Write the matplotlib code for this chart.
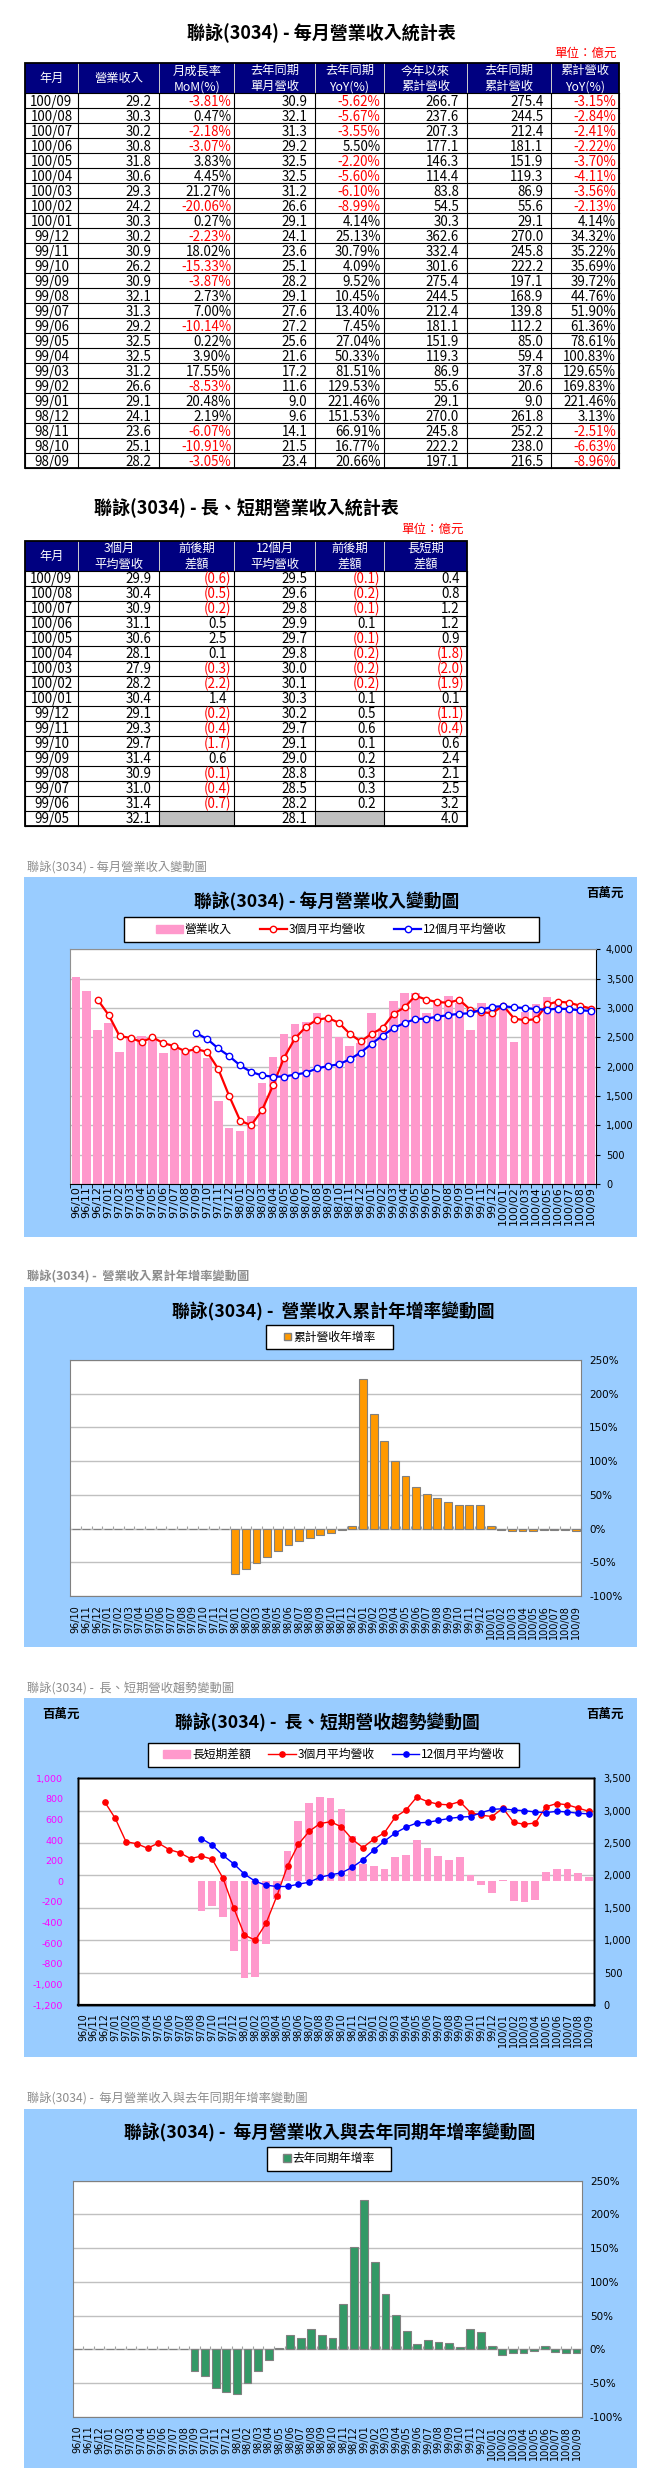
import numpy as np
import matplotlib
matplotlib.use('Agg')
import matplotlib.pyplot as plt
from matplotlib.patches import Rectangle, Patch
from matplotlib.lines import Line2D

plt.rcParams['font.family'] = ['Noto Sans CJK TC', 'DejaVu Sans']
plt.rcParams['axes.unicode_minus'] = False

# ---------------- table 1 data (億元) ----------------
t1_month = ['100/09', '100/08', '100/07', '100/06', '100/05', '100/04', '100/03', '100/02', '100/01',
            '99/12', '99/11', '99/10', '99/09', '99/08', '99/07', '99/06', '99/05', '99/04', '99/03',
            '99/02', '99/01', '98/12', '98/11', '98/10', '98/09']
t1_rev = [29.2, 30.3, 30.2, 30.8, 31.8, 30.6, 29.3, 24.2, 30.3, 30.2, 30.9, 26.2, 30.9, 32.1, 31.3,
          29.2, 32.5, 32.5, 31.2, 26.6, 29.1, 24.1, 23.6, 25.1, 28.2]
t1_mom = [-3.81, 0.47, -2.18, -3.07, 3.83, 4.45, 21.27, -20.06, 0.27, -2.23, 18.02, -15.33, -3.87,
          2.73, 7.00, -10.14, 0.22, 3.90, 17.55, -8.53, 20.48, 2.19, -6.07, -10.91, -3.05]
t1_ly_rev = [30.9, 32.1, 31.3, 29.2, 32.5, 32.5, 31.2, 26.6, 29.1, 24.1, 23.6, 25.1, 28.2, 29.1, 27.6,
             27.2, 25.6, 21.6, 17.2, 11.6, 9.0, 9.6, 14.1, 21.5, 23.4]
t1_yoy = [-5.62, -5.67, -3.55, 5.50, -2.20, -5.60, -6.10, -8.99, 4.14, 25.13, 30.79, 4.09, 9.52,
          10.45, 13.40, 7.45, 27.04, 50.33, 81.51, 129.53, 221.46, 151.53, 66.91, 16.77, 20.66]
t1_ytd = [266.7, 237.6, 207.3, 177.1, 146.3, 114.4, 83.8, 54.5, 30.3, 362.6, 332.4, 301.6, 275.4,
          244.5, 212.4, 181.1, 151.9, 119.3, 86.9, 55.6, 29.1, 270.0, 245.8, 222.2, 197.1]
t1_ly_ytd = [275.4, 244.5, 212.4, 181.1, 151.9, 119.3, 86.9, 55.6, 29.1, 270.0, 245.8, 222.2, 197.1,
             168.9, 139.8, 112.2, 85.0, 59.4, 37.8, 20.6, 9.0, 261.8, 252.2, 238.0, 216.5]
t1_ytd_yoy = [-3.15, -2.84, -2.41, -2.22, -3.70, -4.11, -3.56, -2.13, 4.14, 34.32, 35.22, 35.69, 39.72,
              44.76, 51.90, 61.36, 78.61, 100.83, 129.65, 169.83, 221.46, 3.13, -2.51, -6.63, -8.96]
t1_headers = ['年月', '營業收入', '月成長率\nMoM(%)', '去年同期\n單月營收', '去年同期\nYoY(%)',
              '今年以來\n累計營收', '去年同期\n累計營收', '累計營收\nYoY(%)']

# ---------------- table 2 data (億元) ----------------
t2_month = ['100/09', '100/08', '100/07', '100/06', '100/05', '100/04', '100/03', '100/02', '100/01',
            '99/12', '99/11', '99/10', '99/09', '99/08', '99/07', '99/06', '99/05']
t2_ma3 = [29.9, 30.4, 30.9, 31.1, 30.6, 28.1, 27.9, 28.2, 30.4, 29.1, 29.3, 29.7, 31.4, 30.9, 31.0, 31.4, 32.1]
t2_ma3_chg = [-0.6, -0.5, -0.2, 0.5, 2.5, 0.1, -0.3, -2.2, 1.4, -0.2, -0.4, -1.7, 0.6, -0.1, -0.4, -0.7, None]
t2_ma12 = [29.5, 29.6, 29.8, 29.9, 29.7, 29.8, 30.0, 30.1, 30.3, 30.2, 29.7, 29.1, 29.0, 28.8, 28.5, 28.2, 28.1]
t2_ma12_chg = [-0.1, -0.2, -0.1, 0.1, -0.1, -0.2, -0.2, -0.2, 0.1, 0.5, 0.6, 0.1, 0.2, 0.3, 0.3, 0.2, None]
t2_gap = [0.4, 0.8, 1.2, 1.2, 0.9, -1.8, -2.0, -1.9, 0.1, -1.1, -0.4, 0.6, 2.4, 2.1, 2.5, 3.2, 4.0]
t2_headers = ['年月', '3個月\n平均營收', '前後期\n差額', '12個月\n平均營收', '前後期\n差額', '長短期\n差額']

# ---------------- chart data (百萬元 / %) ----------------
months = ['96/10', '96/11', '96/12',
          '97/01', '97/02', '97/03', '97/04', '97/05', '97/06', '97/07', '97/08', '97/09', '97/10', '97/11', '97/12',
          '98/01', '98/02', '98/03', '98/04', '98/05', '98/06', '98/07', '98/08', '98/09', '98/10', '98/11', '98/12',
          '99/01', '99/02', '99/03', '99/04', '99/05', '99/06', '99/07', '99/08', '99/09', '99/10', '99/11', '99/12',
          '100/01', '100/02', '100/03', '100/04', '100/05', '100/06', '100/07', '100/08', '100/09']
revenue = [3520, 3290, 2620,
           2740, 2250, 2470, 2530, 2490, 2230, 2370, 2260, 2340, 2150, 1410, 960,
           900, 1160, 1720, 2160, 2560, 2720, 2760, 2910, 2820, 2510, 2360, 2410,
           2910, 2660, 3120, 3250, 3250, 2920, 3130, 3210, 3090, 2620, 3090, 3020,
           3030, 2420, 2930, 3060, 3180, 3080, 3020, 3030, 2920]
avg3 = [None, None, 3140,
        2880, 2520, 2490, 2420, 2500, 2400, 2350, 2260, 2300, 2250, 1960, 1500,
        1080, 1000, 1260, 1680, 2150, 2480, 2680, 2800, 2830, 2750, 2560, 2430,
        2560, 2660, 2900, 3010, 3210, 3140, 3100, 3090, 3140, 2970, 2930, 2910,
        3040, 2820, 2790, 2810, 3060, 3110, 3090, 3040, 2990]
avg12 = [None, None, None,
         None, None, None, None, None, None, None, None, 2570, 2470, 2310, 2180,
         2020, 1910, 1850, 1830, 1830, 1865, 1895, 1970, 2010, 2040, 2125, 2240,
         2390, 2530, 2655, 2745, 2810, 2820, 2850, 2880, 2900, 2910, 2970, 3020,
         3030, 3010, 3000, 2980, 2970, 2990, 2980, 2960, 2950]
gap = [None, None, None,
       None, None, None, None, None, None, None, None, -290, -240, -350, -680,
       -940, -930, -610, -170, 290, 590, 760, 815, 805, 700, 440, 170,
       150, 120, 240, 260, 400, 320, 250, 210, 240, 60, -40, -110,
       10, -190, -200, -180, 90, 120, 120, 80, 40]
cum_yoy = [0, 0, 0,
           0, 0, 0, 0, 0, 0, 0, 0, 0, 0, 0, 0,
           -67, -60, -51, -42, -33, -25, -19, -14, -8.96, -6.63, -2.51, 3.13,
           221.46, 169.83, 129.65, 100.83, 78.61, 61.36, 51.90, 44.76, 39.72, 35.69, 35.22, 34.32,
           4.14, -2.13, -3.56, -4.11, -3.70, -2.22, -2.41, -2.84, -3.15]
mon_yoy = [0, 0, 0,
           0, 0, 0, 0, 0, 0, 0, 0, -31.7, -39, -57, -64,
           -67, -50, -32, -16, 1.5, 21.5, 17, 30, 20.66, 16.77, 66.91, 151.53,
           221.46, 129.53, 81.51, 50.33, 27.04, 7.45, 13.40, 10.45, 9.52, 4.09, 30.79, 25.13,
           4.14, -8.99, -6.10, -5.60, -2.20, 5.50, -3.55, -5.67, -5.62]

# ---------------- figure ----------------
W, H = 661, 2475
fig = plt.figure(figsize=(W / 100, H / 100), dpi=100)
base = fig.add_axes([0, 0, 1, 1])
base.set_xlim(0, W)
base.set_ylim(H, 0)
base.axis('off')


def rect(x0, y0, x1, y1):
    return [x0 / W, 1 - y1 / H, (x1 - x0) / W, (y1 - y0) / H]


NUM_FS = 9.6


def draw_table(edges, top, hh, rh, headers, month_col, cols):
    n = len(month_col)
    L, R = edges[0], edges[-1]
    B = top + hh + n * rh
    base.add_patch(Rectangle((L, top), R - L, hh, fc='#000080', ec='none', zorder=1))
    for x in edges[1:-1]:
        base.plot([x, x], [top, top + hh], color='#D0D0D0', lw=0.7, zorder=2)
    for i, h in enumerate(headers):
        base.text((edges[i] + edges[i + 1]) / 2, top + hh / 2 + 0.5, h, color='white', ha='center',
                  va='center', fontsize=8.8, linespacing=1.3, zorder=3)
    for r in range(n):
        yc = top + hh + (r + 0.5) * rh
        base.text((edges[0] + edges[1]) / 2, yc + 5, month_col[r], ha='center', va='baseline',
                  fontsize=NUM_FS, zorder=3)
        for c, (vals, kind) in enumerate(cols):
            v = vals[r]
            x0, x1 = edges[c + 1], edges[c + 2]
            if v is None:
                base.add_patch(Rectangle((x0, top + hh + r * rh), x1 - x0, rh, fc='#C0C0C0', ec='none', zorder=1))
                continue
            color = 'black'
            if kind == 'num':
                s, pad = f'{v:.1f}', 8
            elif kind == 'pct':
                s, pad = f'{v:.2f}%', 3
                if v < 0:
                    color = 'red'
            else:
                if v < 0:
                    s, pad, color = f'({abs(v):.1f})', 3, 'red'
                else:
                    s, pad = f'{v:.1f}', 7.5
            base.text(x1 - pad, yc + 5, s, ha='right', va='baseline', fontsize=NUM_FS, color=color, zorder=3)
    for r in range(n + 1):
        y = top + hh + r * rh
        base.plot([L, R], [y, y], color='black', lw=0.8, zorder=2)
    for x in edges:
        base.plot([x, x], [top + hh, B], color='black', lw=0.8, zorder=2)
    base.add_patch(Rectangle((L, top), R - L, B - top, fc='none', ec='black', lw=1.3, zorder=4))


# ---- table 1 ----
edges1 = [24.5, 78.4, 159.4, 234.4, 315.3, 383.6, 467.1, 551.4, 618.9]
base.text(321.7, 33.5, '聯詠(3034) - 每月營業收入統計表', ha='center', va='center', fontsize=13, fontweight='bold')
base.text(616.4, 53.5, '單位：億元', ha='right', va='center', fontsize=9, color='red')
draw_table(edges1, 63.3, 30, 15, t1_headers, t1_month,
           [(t1_rev, 'num'), (t1_mom, 'pct'), (t1_ly_rev, 'num'), (t1_yoy, 'pct'),
            (t1_ytd, 'num'), (t1_ly_ytd, 'num'), (t1_ytd_yoy, 'pct')])

# ---- table 2 ----
edges2 = [24.5, 78.4, 159.4, 234.4, 315.3, 383.6, 467.1]
base.text(246.6, 508.5, '聯詠(3034) - 長、短期營業收入統計表', ha='center', va='center', fontsize=13, fontweight='bold')
base.text(463.7, 529.5, '單位：億元', ha='right', va='center', fontsize=9, color='red')
draw_table(edges2, 540.7, 30, 15, t2_headers, t2_month,
           [(t2_ma3, 'num'), (t2_ma3_chg, 'paren'), (t2_ma12, 'num'), (t2_ma12_chg, 'paren'), (t2_gap, 'paren')])

# ---- chart backgrounds & captions ----
BLUE = '#99CCFF'
for (y0, y1) in [(876.7, 1236.7), (1286.7, 1647.3), (1698.3, 2057.3), (2109.0, 2468.3)]:
    base.add_patch(Rectangle((24, y0), 636.6 - 24, y1 - y0, fc=BLUE, ec='none', zorder=0))
captions = [(866.7, '聯詠(3034) - 每月營業收入變動圖', 'normal'),
            (1276.7, '聯詠(3034) -  營業收入累計年增率變動圖', 'bold'),
            (1688.3, '聯詠(3034) -  長、短期營收趨勢變動圖', 'normal'),
            (2098.3, '聯詠(3034) -  每月營業收入與去年同期年增率變動圖', 'normal')]
for y, s, w in captions:
    base.text(27.4, y, s, ha='left', va='center', fontsize=8.8, color='#8C8C8C', fontweight=w)

titles = [(326.7, 901.7, '聯詠(3034) - 每月營業收入變動圖'),
          (333.0, 1311.7, '聯詠(3034) -  營業收入累計年增率變動圖'),
          (327.8, 1722.7, '聯詠(3034) -  長、短期營收趨勢變動圖'),
          (329.9, 2133.3, '聯詠(3034) -  每月營業收入與去年同期年增率變動圖')]
for x, y, s in titles:
    base.text(x, y, s, ha='center', va='center', fontsize=12.8, fontweight='bold')
for x, y in [(604.6, 893.3), (61.1, 1714.0), (604.6, 1714.0)]:
    base.text(x, y, '百萬元', ha='center', va='center', fontsize=9, fontweight='bold')


def legend_box(x0, y0, x1, y1, handles, labels, fs, colsp, hlen, hh=0.7):
    base.add_patch(Rectangle((x0, y0), x1 - x0, y1 - y0, fc='white', ec='black', lw=1.0, zorder=5))
    cx = (x0 + x1) / 2 / W
    cy = 1 - (y0 + y1) / 2 / H
    fig.legend(handles, labels, loc='center', bbox_to_anchor=(cx, cy), ncol=len(handles), frameon=False,
               fontsize=fs, columnspacing=colsp, handlelength=hlen, handletextpad=0.15, handleheight=hh,
               borderaxespad=0, borderpad=0)


x = np.arange(len(months))
PINK = '#FF99CC'


def setup_x(ax, fs, pad):
    ax.set_xlim(-0.5, len(months) - 0.5)
    ax.set_xticks(x)
    ax.set_xticklabels(months, rotation=90, fontsize=fs, fontfamily='DejaVu Sans')
    ax.tick_params(axis='x', which='major', length=0, pad=pad)


# ---------------- chart 1 ----------------
ax1 = fig.add_axes(rect(70.3, 949.3, 596.3, 1184))
ax1.set_axisbelow(True)
ax1.bar(x, revenue, width=0.78, color=PINK, zorder=2)
ax1.plot(x, np.array(avg3, dtype=float), color='#FF0000', lw=1.6, marker='o', ms=4.6, mfc='white',
         mec='#FF0000', mew=1.0, zorder=3)
ax1.plot(x, np.array(avg12, dtype=float), color='#0000FF', lw=1.6, marker='o', ms=4.6, mfc='white',
         mec='#0000FF', mew=1.0, zorder=3)
setup_x(ax1, 8, 1.5)
ax1.set_xticks(np.arange(-0.5, len(months), 1), minor=True)
ax1.tick_params(axis='x', which='minor', length=3, direction='out', color='black')
ax1.set_ylim(0, 4000)
ax1.yaxis.tick_right()
yt = np.arange(0, 4001, 500)
ax1.set_yticks(yt)
ax1.set_yticklabels([f'{int(v):,}' for v in yt], fontsize=7, fontfamily='DejaVu Sans')
ax1.tick_params(axis='y', length=3, direction='out', pad=4, color='black')
ax1.grid(axis='y', color='#C0C0C0', lw=1)
for s in ['left', 'top']:
    ax1.spines[s].set_color('#909090')
for s in ['right', 'bottom']:
    ax1.spines[s].set_color('black')
legend_box(123.5, 917.3, 538.8, 941.7,
           [Patch(color=PINK),
            Line2D([], [], color='#FF0000', lw=1.6, marker='o', ms=4.6, mfc='white', mec='#FF0000'),
            Line2D([], [], color='#0000FF', lw=1.6, marker='o', ms=4.6, mfc='white', mec='#0000FF')],
           ['營業收入', '3個月平均營收', '12個月平均營收'], 8.5, 2.4, 2.3)


def pct_chart(rect_px, vals, color, legend_px, label):
    ax = fig.add_axes(rect(*rect_px))
    ax.set_axisbelow(True)
    ax.bar(x, vals, width=0.74, color=color, edgecolor='#808080', lw=0.8, zorder=2)
    setup_x(ax, 7, 6.5)
    ax.set_ylim(-100, 250)
    ax.yaxis.tick_right()
    yt = np.arange(-100, 251, 50)
    ax.set_yticks(yt)
    ax.set_yticklabels([f'{int(v)}%' for v in yt], fontsize=7.5, fontfamily='DejaVu Sans')
    ax.tick_params(axis='y', length=0, pad=5.8)
    ax.grid(axis='y', color='#C0C0C0', lw=1)
    for s in ax.spines.values():
        s.set_color('#808080')
    ymin, ymax = ax.get_ylim()
    sec = ax.secondary_xaxis((0 - ymin) / (ymax - ymin))
    sec.set_xticks(np.arange(-0.5, len(months), 1))
    sec.set_xticklabels([])
    sec.tick_params(axis='x', direction='in', length=2, color='#A0A0A0')
    sec.spines['bottom'].set_color('#A0A0A0')
    sec.spines['top'].set_visible(False)
    legend_box(*legend_px, [Patch(color=color, ec='#808080')], [label], 8.5, 1.0, 0.6, 0.6)
    return ax


# ---------------- chart 2 ----------------
pct_chart((70.4, 1360, 581, 1596), cum_yoy, '#FF9900', (266.4, 1325, 393.3, 1349.3), '累計營收年增率')

# ---------------- chart 3 ----------------
r3 = rect(77.6, 1778.3, 594.4, 2005)
axg = fig.add_axes(r3)
axb = axg.twinx()
axl = axg.twinx()
axg.set_ylim(0, 3500)
axb.set_ylim(-1200, 1000)
axl.set_ylim(0, 3500)
axg.set_axisbelow(True)
axg.grid(axis='y', color='#C0C0C0', lw=1)
axb.bar(x, np.array(gap, dtype=float), width=0.72, color=PINK, zorder=2)
axl.plot(x, np.array(avg3, dtype=float), color='#FF0000', lw=1.0, marker='o', ms=3.8, mfc='#FF0000',
         mec='#FF0000', zorder=3)
axl.plot(x, np.array(avg12, dtype=float), color='#0000FF', lw=1.0, marker='o', ms=3.8, mfc='#0000FF',
         mec='#0000FF', zorder=3)
setup_x(axg, 7, 6)
axg.yaxis.tick_right()
yt = np.arange(0, 3501, 500)
axg.set_yticks(yt)
axg.set_yticklabels([f'{int(v):,}' for v in yt], fontsize=7, fontfamily='DejaVu Sans')
axg.tick_params(axis='y', length=0, pad=6.7)
axb.yaxis.tick_left()
ytl = np.arange(-1200, 1001, 200)
axb.set_yticks(ytl)
axb.set_yticklabels([f'{int(v):,}' for v in ytl], fontsize=6.8, fontfamily='DejaVu Sans', color='#FF00FF')
axb.tick_params(axis='y', length=0, pad=10.5)
axl.set_yticks([])
for a in (axg, axb, axl):
    for s in a.spines.values():
        s.set_color('black')
        s.set_linewidth(1.0)
axg.spines['bottom'].set_linewidth(1.6)
legend_box(148.4, 1742.7, 519.4, 1766.7,
           [Patch(color=PINK),
            Line2D([], [], color='#FF0000', lw=1.0, marker='o', ms=3.8, mfc='#FF0000', mec='#FF0000'),
            Line2D([], [], color='#0000FF', lw=1.0, marker='o', ms=3.8, mfc='#0000FF', mec='#0000FF')],
           ['長短期差額', '3個月平均營收', '12個月平均營收'], 8.5, 1.5, 2.3)

# ---------------- chart 4 ----------------
pct_chart((72.5, 2180.7, 581.8, 2416.7), mon_yoy, '#339966', (267.3, 2146.7, 390.8, 2170.7), '去年同期年增率')

fig.savefig('out.png', dpi=100)
